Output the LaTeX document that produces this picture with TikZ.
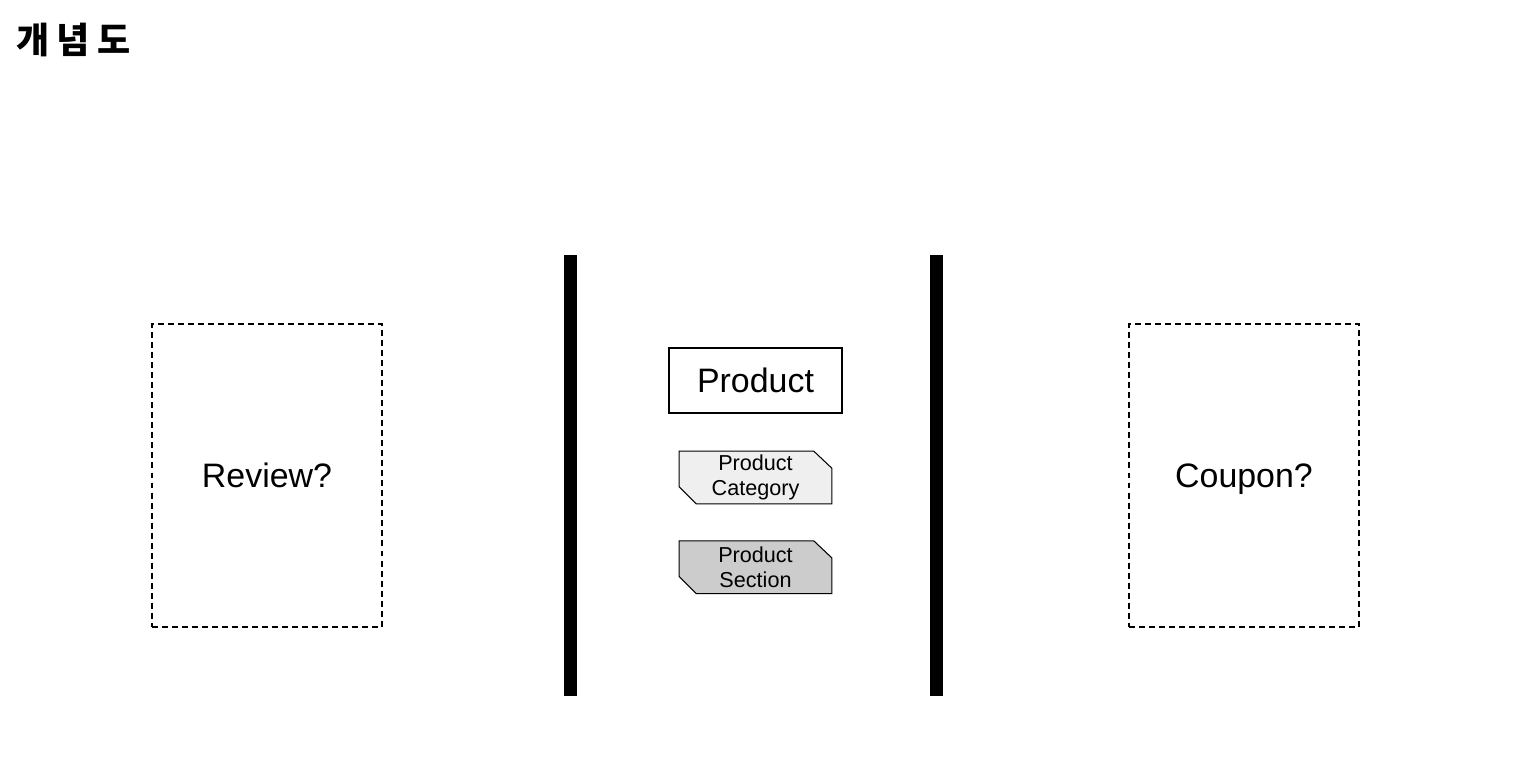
\documentclass[tikz,border=0pt]{standalone}
\usepackage{fontspec}
\setmainfont{Liberation Sans}
\newfontfamily\cjk{Noto Sans CJK KR}
\usetikzlibrary{positioning,backgrounds}
\definecolor{PaleGray}{HTML}{EFEFEF}
\definecolor{MidGray}{HTML}{CCCCCC}

\begin{document}
\begin{tikzpicture}[x=0.02cm,y=-0.02cm,
  every node/.style={font=\fontsize{19.3}{22}\selectfont},
  maybebox/.style={draw,dashed,dash pattern=on 3.4pt off 2.3pt,line width=0.75pt,minimum width=4.6cm,minimum height=6.06cm,text depth=0pt},
  wall/.style={fill=black,inner sep=0pt,minimum width=0.26cm,minimum height=8.82cm},
  entity/.style={draw,line width=1.4pt,minimum width=3.46cm,minimum height=1.3cm},
  tagbox/.style={inner sep=0pt,minimum width=3.04cm,minimum height=1.04cm,align=center,font=\fontsize{12.3}{14.6}\selectfont},
  tagline/.style={draw,line width=0.6pt}]
  \useasboundingbox (0,0) rectangle (1522,776);
  \node[anchor=west,inner sep=0pt,font=\cjk\bfseries\addfontfeature{LetterSpace=20}\fontsize{20.5}{24}\selectfont] (title) at (16,40) {개념도};
  % boundaries
  \node[wall] (wallL) at (570.5,475.5) {};
  \node[wall] (wallR) at (936.5,475.5) {};
  % side contexts
  \node[maybebox] (review) at (267,475.5) {Review?};
  \node[maybebox] (coupon) at (1244,475.5) {Coupon?};
  % product context
  \node[entity] (product) at (755.5,380.5) {Product};
  \node[tagbox,below=0.74cm of product] (category) {Product\\Category};
  \node[tagbox,below=0.74cm of category] (section) {Product\\Section};
  \begin{scope}[on background layer]
    \foreach \n/\c in {category/PaleGray,section/MidGray}
      \draw[tagline,fill=\c] (\n.north west) -- ([xshift=-0.36cm]\n.north east) -- ([yshift=-0.34cm]\n.north east)
        -- (\n.south east) -- ([xshift=0.34cm]\n.south west) -- ([yshift=0.34cm]\n.south west) -- cycle;
  \end{scope}
\end{tikzpicture}
\end{document}
